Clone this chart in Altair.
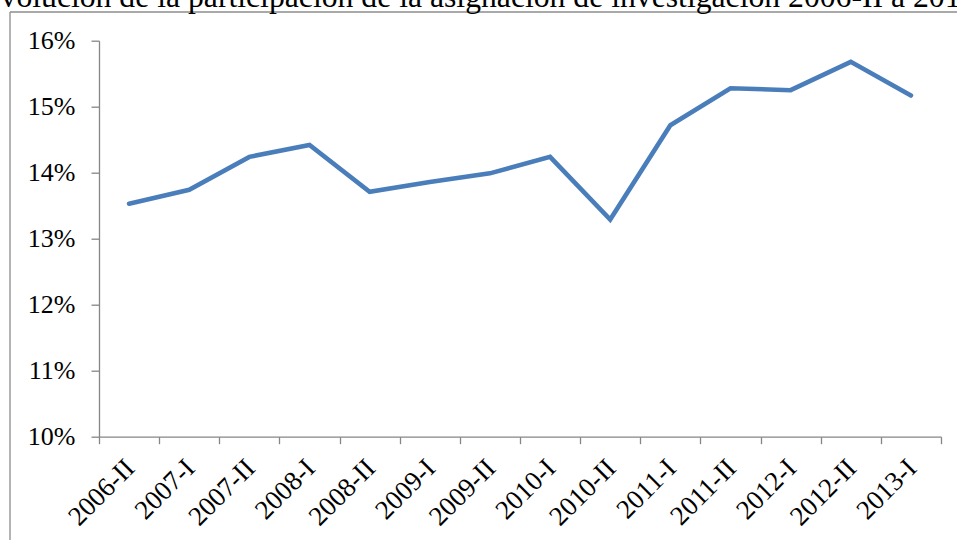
import altair as alt
import pandas as pd

# ---- data ----
periods = ["2006-II", "2007-I", "2007-II", "2008-I", "2008-II", "2009-I", "2009-II",
           "2010-I", "2010-II", "2011-I", "2011-II", "2012-I", "2012-II", "2013-I"]
shares_pct = [13.53, 13.74, 14.24, 14.42, 13.71, 13.86, 13.99,
              14.24, 13.29, 14.72, 15.28, 15.25, 15.68, 15.17]
y_ticks = [0.10, 0.11, 0.12, 0.13, 0.14, 0.15, 0.16]
title_text = "Evolución de la participación de la asignación de investigación 2006-II a 2013-I"

df = pd.DataFrame({"periodo": periods, "share": [v / 100 for v in shares_pct]})

FONT = "Liberation Serif"
GREY = "#868686"
W, H = 842, 396
PAD = {"left": 99, "top": 40.7, "right": 16, "bottom": 103.3}

base = alt.Chart(df)

line = base.mark_line(color="#4a7ebb", strokeWidth=4.6, strokeCap="round").encode(
    x=alt.X(
        "periodo:N",
        sort=periods,
        title=None,
        scale=alt.Scale(type="band", paddingInner=0, paddingOuter=0),
        axis=alt.Axis(
            labelAngle=-45,
            labelAlign="right",
            labelBaseline="middle",
            labelFont=FONT,
            labelFontSize=27,
            labelColor="black",
            labelPadding=20,
            labelOffset=1,
            tickBand="extent",
            tickSize=7,
            tickColor=GREY,
            tickWidth=1.3,
            domainColor=GREY,
            domainWidth=1.3,
            grid=False,
        ),
    ),
    y=alt.Y(
        "share:Q",
        title=None,
        scale=alt.Scale(domain=[0.10, 0.16], nice=False, zero=False),
        axis=alt.Axis(
            values=y_ticks,
            format=".0%",
            labelFont=FONT,
            labelFontSize=26,
            labelColor="black",
            labelPadding=16,
            tickSize=8,
            tickColor=GREY,
            tickWidth=1.3,
            domainColor=GREY,
            domainWidth=1.3,
            grid=False,
        ),
    ),
)

one = alt.Data(values=[{"k": 1}])

frame_left = alt.Chart(one).mark_rule(color="#8c8c8c", strokeWidth=1.3).encode(
    x=alt.value(-89), x2=alt.value(-89), y=alt.value(-28.7), y2=alt.value(520)
)
frame_top = alt.Chart(one).mark_rule(color="#8c8c8c", strokeWidth=1.3).encode(
    x=alt.value(-89), x2=alt.value(870), y=alt.value(-28.7), y2=alt.value(-28.7)
)

title = alt.Chart(one).mark_text(
    align="left", baseline="alphabetic", font=FONT, fontSize=31.7, color="black"
).encode(
    x=alt.value(-117.8), y=alt.value(-33.4), text=alt.value(title_text)
)

chart = (
    alt.layer(frame_left, frame_top, line, title)
    .properties(
        width=W,
        height=H,
        padding=PAD,
        autosize=alt.AutoSizeParams(type="none"),
        background="white",
    )
    .configure_view(strokeWidth=0)
)

chart.save(
    "out.html",
    embed_options={
        "renderer": "svg",
        "actions": False,
        "defaultStyle": "html,body{margin:0;padding:0;overflow:hidden}",
    },
)
